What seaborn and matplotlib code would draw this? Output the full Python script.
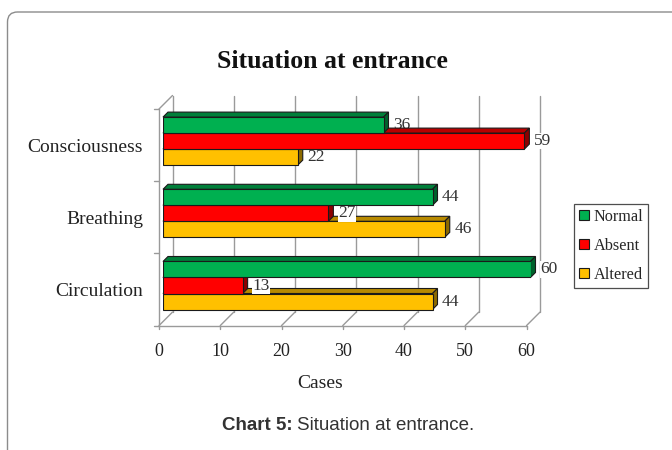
import matplotlib
matplotlib.use("Agg")
import matplotlib.pyplot as plt
from matplotlib.patches import Polygon, Patch, FancyBboxPatch
from matplotlib.transforms import ScaledTranslation
import numpy as np
import pandas as pd
import seaborn as sns

# Data
categories = ["Consciousness", "Breathing", "Circulation"]
series_names = ["Normal", "Absent", "Altered"]
normal = [36, 44, 60]
absent = [59, 27, 13]
altered = [22, 46, 44]
colors = ["#00B050", "#FF0000", "#FFC000"]
x_ticks = [0, 10, 20, 30, 40, 50, 60]

df = pd.DataFrame({
    "Situation": categories * 3,
    "Cases": normal + absent + altered,
    "Status": [s for s in series_names for _ in categories],
})

sns.set_style("white")
serif = "Liberation Serif"
sans = "Liberation Sans"

fig = plt.figure(figsize=(6.72, 4.5), dpi=100)
W, H = 672, 450
# axes placed in pixel terms: value 0 at x=163, 60 at x=530.5; rows from y=105 to y=321.6
ax = fig.add_axes([163 / W, 1 - 321.6 / H, (530.5 - 163) / W, (321.6 - 105) / H])

sns.barplot(data=df, y="Situation", x="Cases", hue="Status", orient="h",
            palette=colors, hue_order=series_names, order=categories,
            width=0.665, saturation=1, edgecolor="#1a1a1a", linewidth=0.8,
            legend=False, ax=ax)

ax.set_xlim(0, 60)
ax.set_ylim(2.5, -0.5)
for s in ax.spines.values():
    s.set_visible(False)

# pixel -> data conversion for the depth effect
ax_w_px = fig.get_figwidth() * fig.dpi * ax.get_position().width
ax_h_px = fig.get_figheight() * fig.dpi * ax.get_position().height
pxx = ax_w_px / 60.0
pxy = ax_h_px / 3.0


def off(x, y, dxp, dyp):
    return (x + dxp / pxx, y - dyp / pxy)


B = 9.5   # back wall offset (px)
F = -4.0  # front plane offset (px)
wall = "#9a9a9a"

# back wall gridlines, floor diagonals
for v in x_ticks:
    p1 = off(v, 2.5, B, B)
    p2 = off(v, -0.5, B, B)
    ax.plot([p1[0], p2[0]], [p1[1], p2[1]], color=wall, lw=1, clip_on=False, zorder=0.5)
    q1 = off(v, 2.5, F, F)
    ax.plot([q1[0], p1[0]], [q1[1], p1[1]], color=wall, lw=1, clip_on=False, zorder=0.5)
    q2 = off(v, 2.5, F, F - 3)
    ax.plot([q1[0], q2[0]], [q1[1], q2[1]], color=wall, lw=1, clip_on=False, zorder=0.5)

# front floor edge
a = off(0, 2.5, F, F)
b = off(60, 2.5, F, F)
ax.plot([a[0], b[0]], [a[1], b[1]], color=wall, lw=1, clip_on=False, zorder=0.5)

# left wall front edge with category ticks
a = off(0, 2.5, F, F)
b = off(0, -0.5, F, F)
ax.plot([a[0], b[0]], [a[1], b[1]], color=wall, lw=1, clip_on=False, zorder=0.5)
for yb in [-0.5, 0.5, 1.5, 2.5]:
    t1 = off(0, yb, F, F)
    t2 = off(0, yb, F - 5, F)
    ax.plot([t1[0], t2[0]], [t1[1], t2[1]], color=wall, lw=1, clip_on=False, zorder=0.5)
c = off(0, -0.5, B, B)
ax.plot([b[0], c[0]], [b[1], c[1]], color=wall, lw=1, clip_on=False, zorder=0.5)


def shade(col, f):
    r, g, bb = matplotlib.colors.to_rgb(col)
    return (r * f, g * f, bb * f)


# 3D bar faces and value labels
d = 5.0
for h, cont in enumerate(ax.containers):
    z = 5 - h
    for patch in cont.patches:
        patch.set_zorder(z)
        x0, w = patch.get_x(), patch.get_width()
        y0, hg = patch.get_y(), patch.get_height()
        x1 = x0 + w
        top = [(x0, y0), (x1, y0), off(x1, y0, d, d), off(x0, y0, d, d)]
        side = [(x1, y0), (x1, y0 + hg), off(x1, y0 + hg, d, d), off(x1, y0, d, d)]
        ax.add_patch(Polygon(top, closed=True, facecolor=shade(colors[h], 0.72),
                             edgecolor="#1a1a1a", lw=0.8, zorder=z - 0.1, clip_on=False))
        ax.add_patch(Polygon(side, closed=True, facecolor=shade(colors[h], 0.55),
                             edgecolor="#1a1a1a", lw=0.8, zorder=z - 0.1, clip_on=False))
    labels = ax.bar_label(cont, padding=(d + 4.5) * 0.72, fontsize=12.5, family=serif,
                          color="#333333")
    for t in labels:
        t.set_zorder(3.5)
        t.set_bbox(dict(facecolor="white", edgecolor="none", pad=0.2))

# ticks and labels on the front plane
shift = ScaledTranslation(F / 100, F / 100, fig.dpi_scale_trans)
ax.set_xticks(x_ticks)
ax.set_xticklabels([str(v) for v in x_ticks], fontsize=13, family=serif, color="#222222")
ax.tick_params(axis="x", length=0, pad=12.5)
ax.tick_params(axis="y", length=0, pad=11.5)
ax.set_yticks(range(len(categories)))
ax.set_yticklabels(categories, fontsize=14, family=serif, color="#222222")
for lab in ax.get_xticklabels() + ax.get_yticklabels():
    lab.set_transform(lab.get_transform() + shift)

ax.set_ylabel("")
ax.set_xlabel("Cases", fontsize=14, family=serif, color="#222222")
ax.xaxis.set_label_coords((320 - 163) / (530.5 - 163), -(375 - 321.6) / (321.6 - 105))

fig.text(332 / W, 1 - 62 / H, "Situation at entrance", ha="center", va="center",
         fontsize=18.5, fontweight="bold", family=serif, color="#111111")

# legend
handles = [Patch(facecolor=c_, edgecolor="#1a1a1a", lw=0.8) for c_ in colors]
leg = fig.legend(handles, series_names, loc="upper left",
                 bbox_to_anchor=(574 / W, 1 - 204 / H), frameon=True, fancybox=False,
                 edgecolor="#222222", prop={"family": serif, "size": 11.7},
                 handlelength=0.6, handleheight=0.6, handletextpad=0.3,
                 labelspacing=0.8, borderpad=0.3, borderaxespad=0)
leg.get_frame().set_linewidth(0.9)

# caption
fig.text(293 / W, 1 - 425 / H, "Chart 5:", ha="right", va="center", fontsize=13.5,
         fontweight="bold", family=sans, color="#333333")
fig.text(297 / W, 1 - 425 / H, "Situation at entrance.", ha="left", va="center",
         fontsize=13.5, family=sans, color="#333333")

# surrounding rounded frame
frame = FancyBboxPatch((0.075, -0.5), 7.5, 4.5 - 0.12 + 0.5,
                       boxstyle="round,pad=0,rounding_size=0.1",
                       transform=fig.dpi_scale_trans, facecolor="none",
                       edgecolor="#8c8c8c", lw=1.0, clip_on=False)
fig.patches.append(frame)

fig.savefig("out.png", dpi=100, facecolor="white")
